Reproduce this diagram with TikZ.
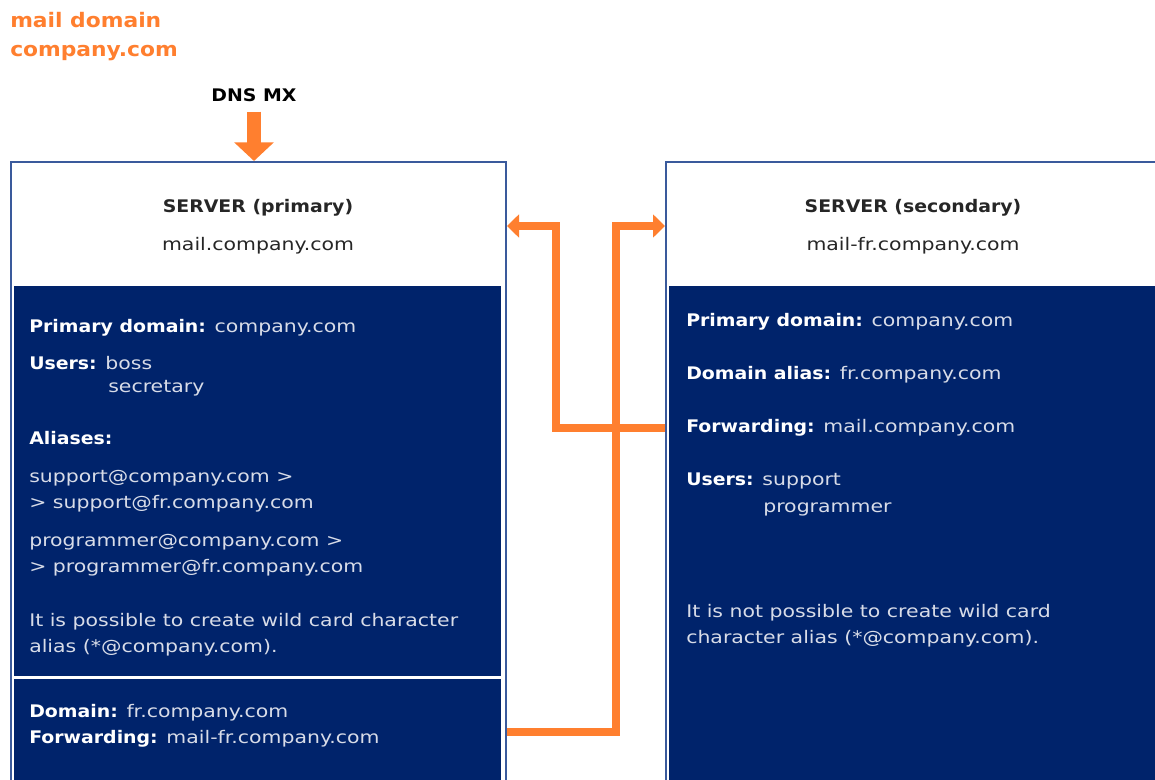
\documentclass[tikz,border=0pt]{standalone}
\usepackage{fontspec}
\setmainfont[FakeStretch=1.18,BoldFeatures={FakeStretch=1.09}]{DejaVu Sans}
\usetikzlibrary{arrows.meta}

\definecolor{navy}{HTML}{00236B}
\definecolor{rimblue}{HTML}{3A5A9C}
\definecolor{mxorange}{HTML}{FF7F2F}
\definecolor{paleblue}{HTML}{D8DCE8}
\newcommand\fld[1]{\textbf{\textcolor{white}{#1}}}

\begin{document}
\begin{tikzpicture}[x=0.75pt,y=0.75pt,yscale=-1,xscale=1,
  outer/.style={draw=rimblue,line width=1.5pt,fill=white,anchor=north west,inner sep=0pt},
  panel/.style={fill=navy,anchor=north west,inner sep=0pt},
  head/.style={anchor=base,inner sep=0.75pt,text=black!85,font=\fontsize{13}{15}\selectfont},
  lbl/.style={anchor=base west,inner sep=0.75pt,text=paleblue,font=\fontsize{13}{15}\selectfont},
  link/.style={draw=mxorange,line width=6pt,-{Triangle[length=9pt,width=17pt]}},
  mxarrow/.style={draw=mxorange,line width=11pt,-{Triangle[length=14pt,width=29pt]}},
]
\clip (0,0) rectangle (1155,780);
\fill[white] (0,0) rectangle (1155,780);

% mail domain
\draw (10,28) node [anchor=base west][inner sep=0pt][text=mxorange,font=\bfseries\fontsize{15}{17}\selectfont] (maildom) {mail domain};
\draw (10,57) node [anchor=base west][inner sep=0pt][text=mxorange,font=\bfseries\fontsize{15}{17}\selectfont] (company) {company.com};
\draw (254,102) node [anchor=base][inner sep=0.75pt][font=\bfseries\fontsize{13}{15}\selectfont] (dns) {DNS MX};

% primary server
\node[outer,minimum width=495*0.75pt,minimum height=640*0.75pt] (primary) at (10,161) {};
\node[panel,minimum width=487*0.75pt,minimum height=390*0.75pt] (pinfo) at (14,286) {};
\node[panel,minimum width=487*0.75pt,minimum height=120*0.75pt] (pfwd) at (14,679) {};
\draw (258,213) node [head,font=\bfseries\fontsize{13}{15}\selectfont] (ptitle) {SERVER (primary)};
\draw (258,251) node [head] (phost) {mail.company.com};
\draw (28,332) node [lbl] (pdom) {\fld{Primary domain:} company.com};
\draw (28,369) node [lbl] (pusers) {\fld{Users:} boss};
\draw (107,392) node [lbl] (psec) {secretary};
\draw (28,444) node [lbl] (palias) {\fld{Aliases:}};
\draw (28,482) node [lbl] (psup) {support@company.com >};
\draw (28,508) node [lbl] (psupfr) {> support@fr.company.com};
\draw (28,546) node [lbl] (pprog) {programmer@company.com >};
\draw (28,572) node [lbl] (pprogfr) {> programmer@fr.company.com};
\draw (28,626) node [lbl] (pwild) {It is possible to create wild card character};
\draw (28,652) node [lbl] (pwild2) {alias (*@company.com).};
\draw (28,717) node [lbl] (pdomfr) {\fld{Domain:} fr.company.com};
\draw (28,743) node [lbl] (pfwdfr) {\fld{Forwarding:} mail-fr.company.com};

% secondary server
\node[outer,minimum width=500*0.75pt,minimum height=640*0.75pt] (secondary) at (665,161) {};
\node[panel,minimum width=500*0.75pt,minimum height=510*0.75pt] (sinfo) at (669,286) {};
\draw (913,213) node [head,font=\bfseries\fontsize{13}{15}\selectfont] (stitle) {SERVER (secondary)};
\draw (913,251) node [head] (shost) {mail-fr.company.com};
\draw (685,326) node [lbl] (sdom) {\fld{Primary domain:} company.com};
\draw (685,379) node [lbl] (salias) {\fld{Domain alias:} fr.company.com};
\draw (685,432) node [lbl] (sfwd) {\fld{Forwarding:} mail.company.com};
\draw (685,485) node [lbl] (susers) {\fld{Users:} support};
\draw (762,512) node [lbl] (sprog) {programmer};
\draw (685,617) node [lbl] (swild) {It is not possible to create wild card};
\draw (685,643) node [lbl] (swild2) {character alias (*@company.com).};

% arrows
\draw[mxarrow] (dns.south) ++(0,8) -- (dns.south |- primary.north);
\draw[link] (secondary.west |- 0,428) -| (556,226) -- (primary.east |- 0,226);
\draw[link] (primary.east |- 0,732) -| (616,226) -- (secondary.west |- 0,226);
\end{tikzpicture}
\end{document}
